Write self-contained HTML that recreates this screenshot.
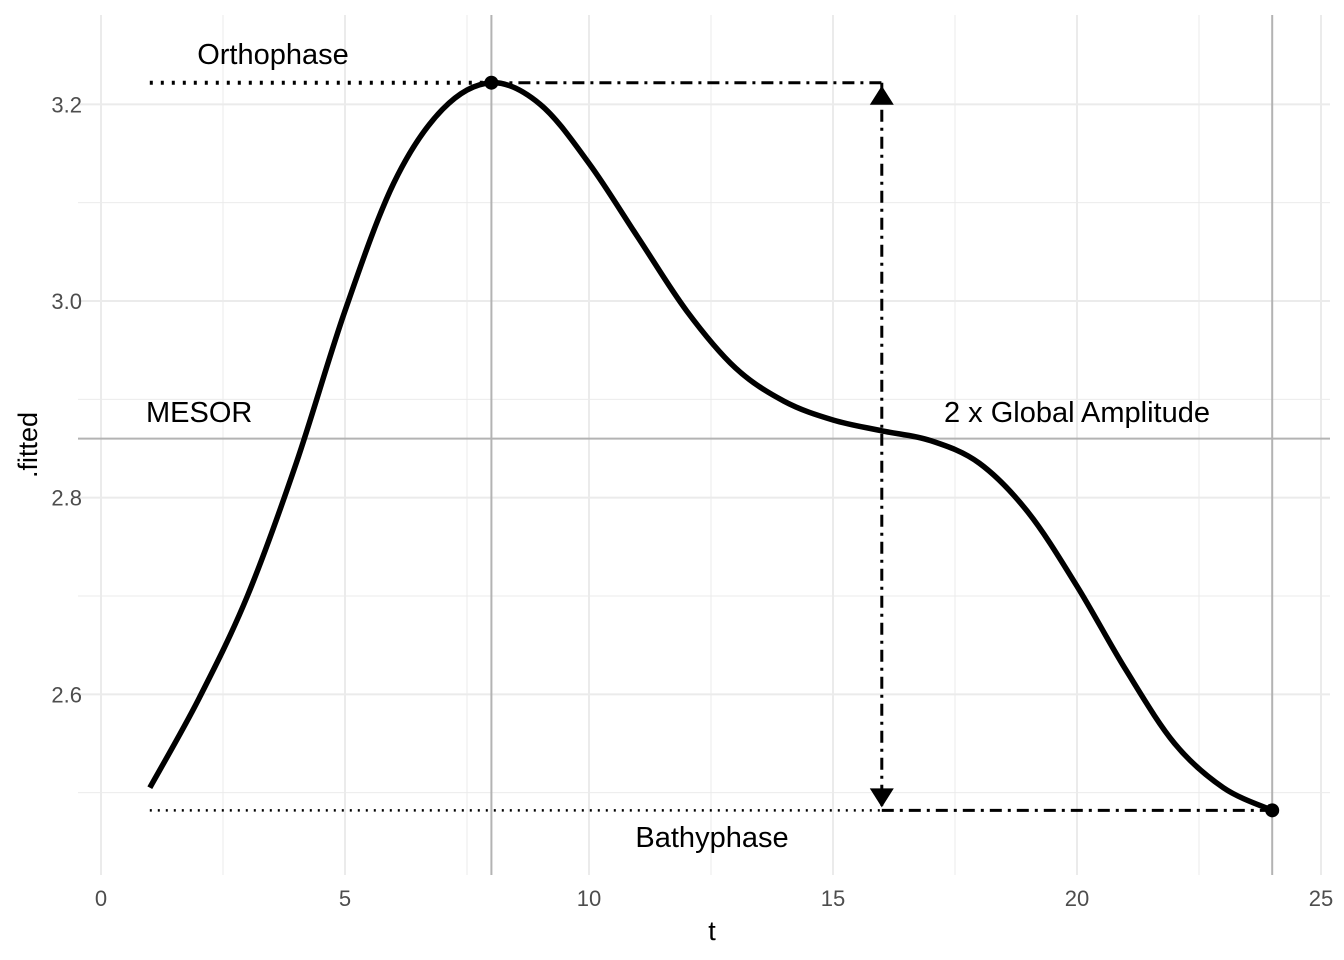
<!DOCTYPE html>
<html><head><meta charset="utf-8"><style>
body{margin:0;background:#fff}
svg{display:block;font-family:"Liberation Sans",Arial,sans-serif}
</style></head><body>
<svg id="chart" width="1344" height="960" viewBox="0 0 1344 960" xmlns="http://www.w3.org/2000/svg">
<g id="grid"></g>
<g id="refs"></g>
<g id="series"></g>
<g id="axes"></g>
<text x="712" y="940" font-size="27" text-anchor="middle" fill="#000">t</text>
<text transform="translate(37,445) rotate(-90)" font-size="27" text-anchor="middle" fill="#000">.fitted</text>
</svg>
<script>
const tValues=[1,2,3,4,5,6,7,8,9,10,11,12,13,14,15,16,17,18,19,20,21,22,23,24];
const fittedValues=[2.505,2.595,2.700,2.835,2.990,3.120,3.195,3.222,3.200,3.140,3.065,2.990,2.932,2.898,2.879,2.868,2.858,2.835,2.785,2.710,2.625,2.550,2.505,2.482];
const xTicks=[0,5,10,15,20,25];
const xMinor=[2.5,7.5,12.5,17.5,22.5];
const yTicks=[2.6,2.8,3.0,3.2];
const yMinor=[2.5,2.7,2.9,3.1];
const mesor=2.86, orthoT=8, orthoV=3.222, bathyT=24, bathyV=2.482, ampT=16, startT=1;

const X=t=>101+t*48.8;
const Y=v=>301-(v-3.0)*983.3;
const NS="http://www.w3.org/2000/svg";
function mk(tag,attrs,parent){const e=document.createElementNS(NS,tag);for(const k in attrs)e.setAttribute(k,attrs[k]);parent.appendChild(e);return e;}
const grid=document.getElementById('grid'),refs=document.getElementById('refs'),series=document.getElementById('series'),axes=document.getElementById('axes');
const L=78,R=1330,T=15,B=875;
xMinor.forEach(t=>{const e=mk('line',{x1:X(t),x2:X(t),y1:T,y2:B,stroke:'#ebebeb','stroke-width':1},grid);

});
yMinor.forEach(v=>{const e=mk('line',{x1:L,x2:R,y1:Y(v),y2:Y(v),stroke:'#ebebeb','stroke-width':1},grid);

});
xTicks.forEach(t=>{const e=mk('line',{x1:X(t),x2:X(t),y1:T,y2:B,stroke:'#ebebeb','stroke-width':2},grid);


const l=mk('text',{x:X(t),y:906,'font-size':22,'text-anchor':'middle',fill:'#4d4d4d'},axes);l.textContent=t;

});
yTicks.forEach(v=>{const e=mk('line',{x1:L,x2:R,y1:Y(v),y2:Y(v),stroke:'#ebebeb','stroke-width':2},grid);


const l=mk('text',{x:82,y:Y(v)+8,'font-size':22,'text-anchor':'end',fill:'#4d4d4d'},axes);l.textContent=v.toFixed(1);

});
[[X(orthoT),X(orthoT),T,B,'ortho-vline'],[X(bathyT),X(bathyT),T,B,'bathy-vline'],[L,R,Y(mesor),Y(mesor),'mesor-line']].forEach(a=>{
const e=mk('line',{x1:a[0],x2:a[1],y1:a[2],y2:a[3],stroke:'#b3b3b3','stroke-width':2},refs);

});
let d='M'+X(tValues[0])+','+Y(fittedValues[0]);
for(let i=0;i<tValues.length-1;i++){
const p0=[X(tValues[Math.max(i-1,0)]),Y(fittedValues[Math.max(i-1,0)])],p1=[X(tValues[i]),Y(fittedValues[i])],p2=[X(tValues[i+1]),Y(fittedValues[i+1])],p3=[X(tValues[Math.min(i+2,tValues.length-1)]),Y(fittedValues[Math.min(i+2,tValues.length-1)])];
d+=` C${p1[0]+(p2[0]-p0[0])/6},${p1[1]+(p2[1]-p0[1])/6} ${p2[0]-(p3[0]-p1[0])/6},${p2[1]-(p3[1]-p1[1])/6} ${p2[0]},${p2[1]}`;}
const c=mk('path',{d:d,fill:'none',stroke:'#000','stroke-width':5.5,'stroke-linejoin':'round'},series);


const dd='12 6 3 6';
const segs=[[startT,orthoV,orthoT,orthoV,'3 8',4,'orthophase-dotted'],[orthoT,orthoV,ampT,orthoV,dd,3,'orthophase-dashdot'],[startT,bathyV,ampT,bathyV,'2 6',2.5,'bathyphase-dotted'],[ampT,bathyV,bathyT,bathyV,dd,3,'bathyphase-dashdot'],[ampT,orthoV,ampT,bathyV,dd,3,'amplitude-arrow']];
segs.forEach(s=>{const e=mk('line',{x1:X(s[0]),y1:Y(s[1]),x2:X(s[2]),y2:Y(s[3]),stroke:'#000','stroke-dasharray':s[4],'stroke-width':s[5]},series);

});
const ax=X(ampT);
[[`${ax-12},${Y(orthoV)+22} ${ax},${Y(orthoV)+3} ${ax+12},${Y(orthoV)+22}`,'arrow-head-top'],[`${ax-12},${Y(bathyV)-22} ${ax},${Y(bathyV)-3} ${ax+12},${Y(bathyV)-22}`,'arrow-head-bottom']].forEach(a=>{
const e=mk('polygon',{points:a[0],fill:'#000'},series);

});
[[orthoT,orthoV,'orthophase-point'],[bathyT,bathyV,'bathyphase-point']].forEach(p=>{
const e=mk('circle',{cx:X(p[0]),cy:Y(p[1]),r:7,fill:'#000'},series);

});
[['Orthophase',273,64,'middle','orthophase-label'],['MESOR',146,422,'start','mesor-label'],['2 x Global Amplitude',1077,422,'middle','amplitude-label'],['Bathyphase',712,847,'middle','bathyphase-label']].forEach(a=>{
const e=mk('text',{x:a[1],y:a[2],'font-size':29,'text-anchor':a[3],fill:'#000'},series);e.textContent=a[0];

});
</script>
</body></html>
